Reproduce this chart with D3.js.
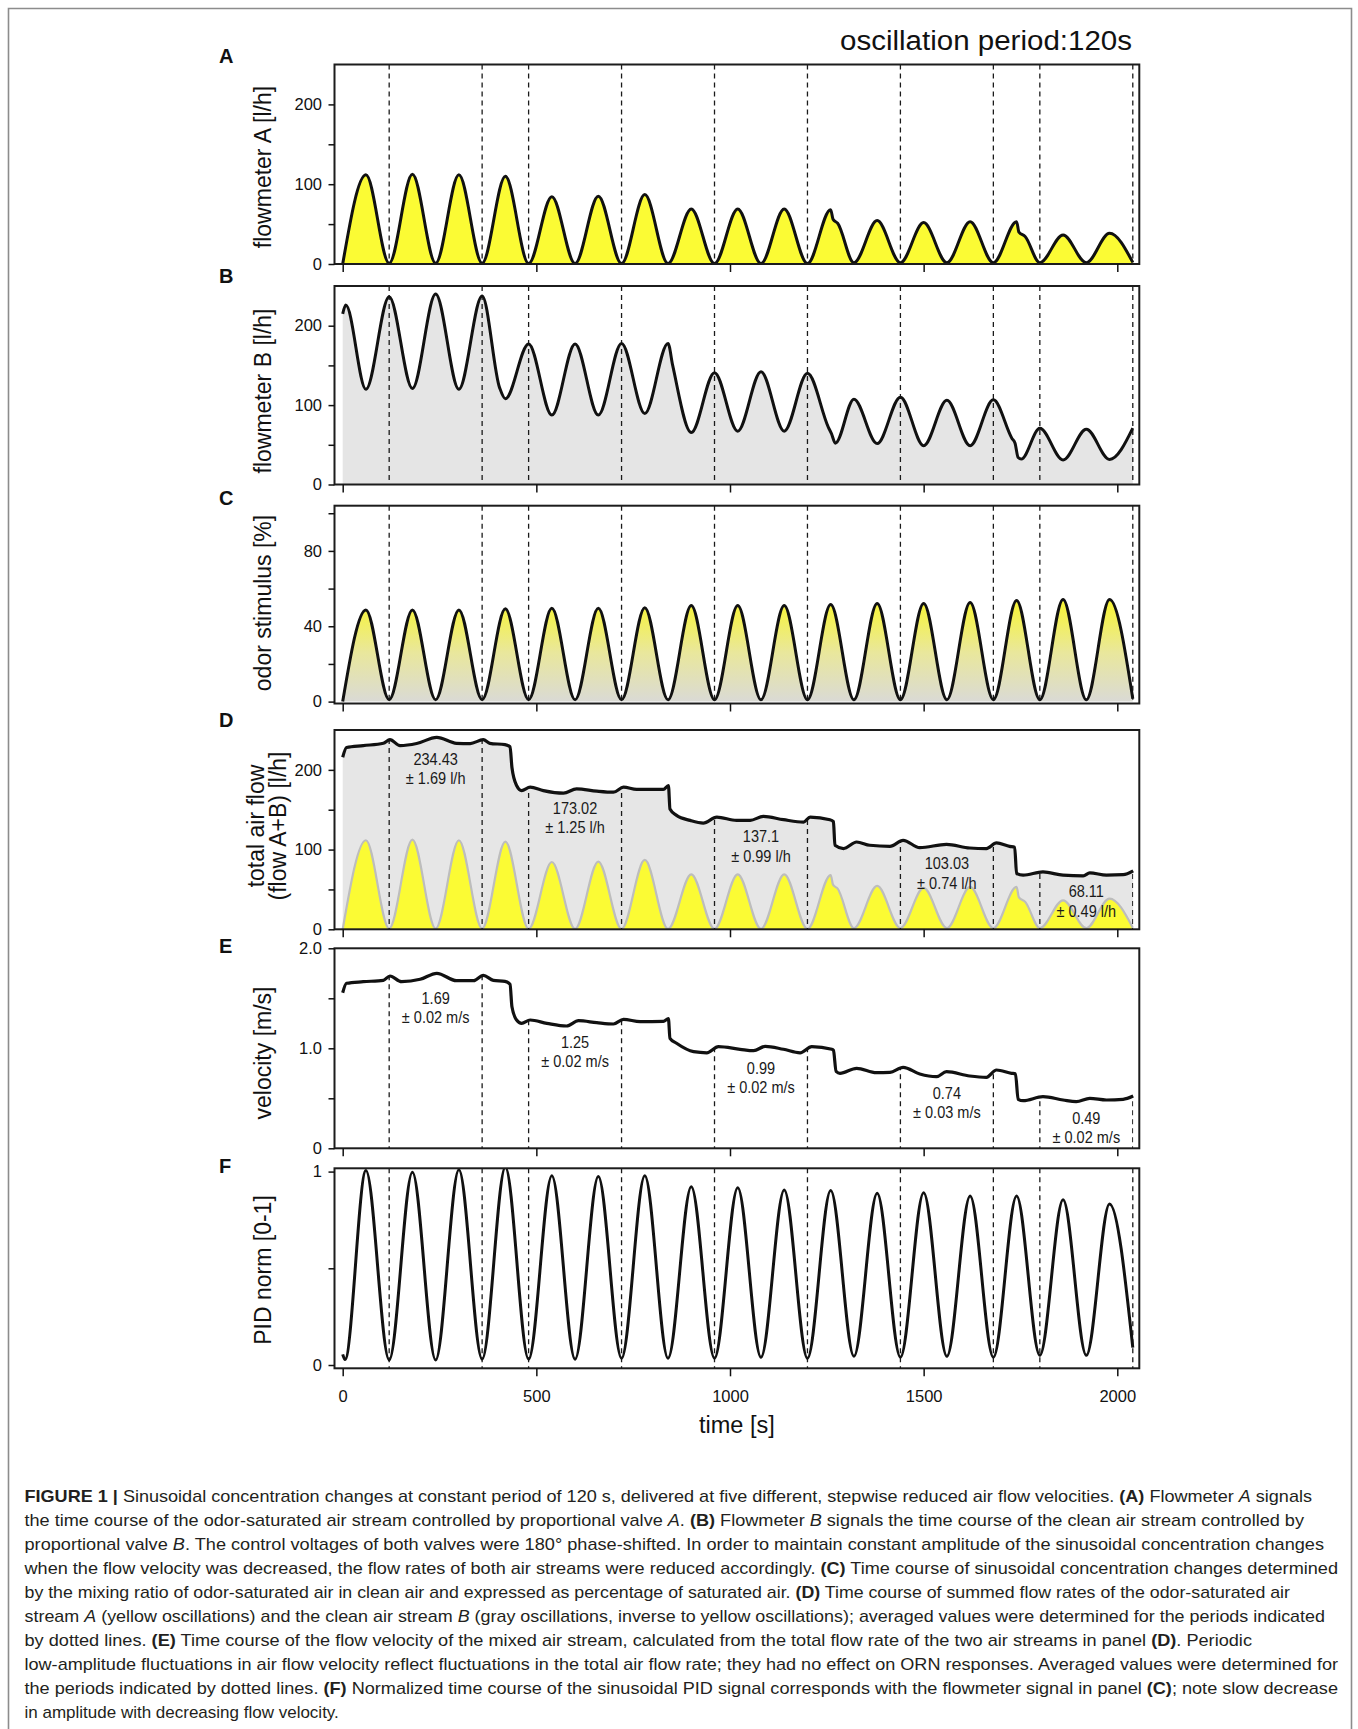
<!DOCTYPE html>
<html>
<head>
<meta charset="utf-8">
<title>Sinusoidal concentration changes at constant period of 120 s</title>
<script src="https://cdn.jsdelivr.net/npm/d3@7"></script>
<style>
  html, body { margin: 0; padding: 0; background: #fff; }
  svg { display: block; }
</style>
</head>
<body>
<svg id="figure" width="1358" height="1729"></svg>
<script>
// ------------------------------------------------------------------
// Data
// ------------------------------------------------------------------
const timeTicks = [0, 500, 1000, 1500, 2000];
const timeTickLabels = ["0", "500", "1000", "1500", "2000"];

// dotted lines bounding the averaging periods (s)
const boundaryTimes = [120, 360, 480, 720, 960, 1200, 1440, 1680, 1800, 2040];
const averagingWindows = [[120, 360], [480, 720], [960, 1200], [1440, 1680], [1800, 2040]];

// averaged values per window
const meanFlow = [234.43, 173.02, 137.1, 103.03, 68.11];
const sdFlow = [1.69, 1.25, 0.99, 0.74, 0.49];
const meanVelocity = [1.69, 1.25, 0.99, 0.74, 0.49];
const sdVelocity = [0.02, 0.02, 0.02, 0.03, 0.02];

const flowTicks = [0, 50, 100, 150, 200];
const flowTickLabels = ["0", "", "100", "", "200"];
const odorTicks = [0, 20, 40, 60, 80, 100];
const odorTickLabels = ["0", "", "40", "", "80", ""];
const velocityTicks = [0, 0.5, 1, 1.5, 2];
const velocityTickLabels = ["0", "", "1.0", "", "2.0"];
const pidTicks = [0, 0.5, 1];
const pidTickLabels = ["0", "", "1"];

// flowmeter A, odor-saturated stream [l/h]  ([time s, value])
const flowA = [
  [0, 0], [60, 111.7], [120, 1], [180, 112.4], [240, 1], [300, 111.7], [360, 1], [420, 110],
  [480, 0.5], [540, 84.4], [600, 0.5], [660, 84.9], [720, 0.5], [780, 87], [840, 0.5],
  [900, 69], [960, 0.5], [1020, 69], [1080, 0.5], [1140, 69], [1200, 0.5], [1260, 68],
  [1266, 56], [1278, 51], [1320, 1.5], [1380, 54.4], [1440, 1.5], [1500, 51.9], [1560, 1.5],
  [1620, 53.1], [1680, 1.5], [1740, 53.1], [1746, 40], [1762, 34.5], [1800, 1.5],
  [1860, 36.4], [1920, 1.5], [1980, 38.5], [2040, 2]
];

// flowmeter B, clean air stream [l/h]
const flowB = [
  [0, 215], [8, 226], [60, 120], [120, 236.6], [180, 121], [240, 240], [300, 120], [360, 237.5],
  [405, 122], [420, 108], [480, 177], [540, 87.4], [600, 177], [660, 87.4], [720, 177.7],
  [780, 89.4], [840, 177.7], [852, 150], [900, 65.5], [960, 140.8], [1020, 67.2], [1080, 142],
  [1140, 67.2], [1200, 140], [1254, 72], [1262, 64], [1272, 52], [1320, 107.4], [1380, 51.5],
  [1440, 110], [1500, 48.9], [1560, 106], [1620, 48.9], [1680, 106.6], [1728, 58], [1736, 52],
  [1744, 34], [1752, 32], [1800, 70.8], [1860, 30.9], [1920, 69.6], [1980, 31.5], [2040, 71]
];

// odor stimulus [% of saturated air]
const odorStimulus = [
  [0, 0], [60, 48.7], [120, 1], [180, 48.7], [240, 1], [300, 48.7], [360, 1], [420, 49.3],
  [480, 1], [540, 49.6], [600, 1], [660, 49.6], [720, 1], [780, 49.8], [840, 1], [900, 51],
  [960, 1], [1020, 51], [1080, 1], [1140, 51], [1200, 1], [1260, 51.5], [1320, 1], [1380, 52.1],
  [1440, 1], [1500, 52.1], [1560, 1], [1620, 52.6], [1680, 1], [1740, 53.7], [1800, 1],
  [1860, 54.2], [1920, 1], [1980, 54.2], [2040, 1.5]
];

// total air flow A+B [l/h]
const totalFlow = [
  [0, 215.8], [10, 228], [53, 230.4], [105, 233.3], [122, 237.9], [148, 230.4], [191, 233],
  [243, 240.8], [294, 233.3], [329, 233], [363, 237.9], [380, 233.3], [419, 231.6], [432, 229],
  [437, 203], [449, 180.4], [462, 174], [484, 178.3], [518, 174], [570, 170.8], [604, 176.2],
  [656, 173.3], [699, 172], [725, 178.3], [759, 175.4], [828, 175.4], [841, 180.4], [845, 151],
  [862, 142.9], [897, 136.6], [931, 133.3], [966, 140.8], [1017, 136.6], [1052, 136.6],
  [1086, 141.6], [1138, 137.5], [1190, 134.5], [1207, 140.8], [1258, 137.5], [1267, 135],
  [1271, 105.4], [1293, 101.3], [1327, 109.5], [1361, 105.4], [1413, 104.1], [1447, 111.6],
  [1490, 102.4], [1559, 106.6], [1619, 102], [1662, 101.3], [1688, 108.3], [1722, 104],
  [1735, 103], [1740, 70], [1757, 67.9], [1808, 72], [1860, 67.9], [1912, 67], [1929, 70.8],
  [1972, 67.9], [2015, 68.5], [2041, 73.3]
];

// flow velocity of the mixed stream [m/s]
const velocity = [
  [0, 1.556], [10, 1.65], [53, 1.666], [105, 1.68], [122, 1.723], [152, 1.666], [200, 1.69],
  [243, 1.75], [294, 1.676], [338, 1.676], [363, 1.73], [389, 1.68], [419, 1.67], [432, 1.64],
  [437, 1.416], [449, 1.283], [462, 1.25], [484, 1.283], [527, 1.25], [578, 1.223], [609, 1.276],
  [656, 1.256], [699, 1.243], [725, 1.29], [768, 1.266], [828, 1.27], [841, 1.296], [845, 1.1],
  [862, 1.05], [906, 0.966], [940, 0.955], [970, 1.016], [1026, 0.99], [1061, 0.976],
  [1091, 1.02], [1138, 0.99], [1181, 0.955], [1211, 1.016], [1263, 0.99], [1267, 0.98],
  [1274, 0.77], [1284, 0.75], [1327, 0.8], [1378, 0.756], [1413, 0.76], [1447, 0.81],
  [1490, 0.743], [1533, 0.716], [1559, 0.766], [1619, 0.723], [1662, 0.71], [1688, 0.783],
  [1727, 0.75], [1737, 0.745], [1744, 0.49], [1757, 0.476], [1808, 0.516], [1860, 0.483],
  [1894, 0.466], [1929, 0.5], [1972, 0.483], [2015, 0.49], [2041, 0.523]
];

// normalised PID signal
const pidSignal = [
  [0, 0.055], [6, 0.028], [60, 1.005], [120, 0.026], [180, 0.997], [240, 0.026], [300, 1.009],
  [360, 0.03], [420, 1.023], [480, 0.03], [540, 0.979], [600, 0.03], [660, 0.974], [720, 0.035],
  [780, 0.978], [840, 0.035], [900, 0.922], [960, 0.035], [1020, 0.917], [1080, 0.04],
  [1140, 0.905], [1200, 0.035], [1260, 0.902], [1320, 0.045], [1380, 0.888], [1440, 0.04],
  [1500, 0.891], [1560, 0.045], [1620, 0.874], [1680, 0.04], [1740, 0.874], [1800, 0.05],
  [1860, 0.854], [1920, 0.05], [1980, 0.833], [2040, 0.09]
];

const captionLines = [
  "**FIGURE 1 |** Sinusoidal concentration changes at constant period of 120 s, delivered at five different, stepwise reduced air flow velocities. **(A)** Flowmeter _A_ signals",
  "the time course of the odor-saturated air stream controlled by proportional valve _A_. **(B)** Flowmeter _B_ signals the time course of the clean air stream controlled by",
  "proportional valve _B_. The control voltages of both valves were 180° phase-shifted. In order to maintain constant amplitude of the sinusoidal concentration changes",
  "when the flow velocity was decreased, the flow rates of both air streams were reduced accordingly. **(C)** Time course of sinusoidal concentration changes determined",
  "by the mixing ratio of odor-saturated air in clean air and expressed as percentage of saturated air. **(D)** Time course of summed flow rates of the odor-saturated air",
  "stream _A_ (yellow oscillations) and the clean air stream _B_ (gray oscillations, inverse to yellow oscillations); averaged values were determined for the periods indicated",
  "by dotted lines. **(E)** Time course of the flow velocity of the mixed air stream, calculated from the total flow rate of the two air streams in panel **(D)**. Periodic",
  "low-amplitude fluctuations in air flow velocity reflect fluctuations in the total air flow rate; they had no effect on ORN responses. Averaged values were determined for",
  "the periods indicated by dotted lines. **(F)** Normalized time course of the sinusoidal PID signal corresponds with the flowmeter signal in panel **(C)**; note slow decrease",
  "in amplitude with decreasing flow velocity."
];

// ------------------------------------------------------------------
// Layout and style
// ------------------------------------------------------------------
const FONT = '"Liberation Sans", Arial, Helvetica, sans-serif';
const INK = "#111";
const YELLOW = "#fbfb34";
const plotLeft = 334.5, plotRight = 1139.3;
const x = d3.scaleLinear().domain([0, 2000]).range([342.7, 1117.3]);

const svg = d3.select("#figure").attr("font-family", FONT);
const defs = svg.append("defs");

// open outer frame around figure and legend
svg.append("path")
  .attr("d", d3.line()([[8.5, 1729], [8.5, 8.5], [1351.5, 8.5], [1351.5, 1729]]))
  .attr("fill", "none").attr("stroke", "#8c8c8c").attr("stroke-width", 1.6);

svg.append("text")
  .attr("x", 840).attr("y", 50)
  .attr("font-size", 27).attr("fill", INK)
  .attr("textLength", 292).attr("lengthAdjust", "spacingAndGlyphs")
  .text("oscillation period:120s");

const lineOf = y => d3.line().x(d => x(d[0])).y(d => y(d[1])).curve(d3.curveMonotoneX);
const areaOf = y => d3.area().x(d => x(d[0])).y0(y(0)).y1(d => y(d[1])).curve(d3.curveMonotoneX);

function dashedBoundaries(g, spec, clip) {
  const grp = g.append("g");
  if (clip) grp.attr("clip-path", `url(#${clip})`);
  grp.selectAll("line").data(boundaryTimes).join("line")
    .attr("x1", d => x(d)).attr("x2", d => x(d))
    .attr("y1", spec.top).attr("y2", spec.bottom)
    .attr("stroke", "#1a1a1a").attr("stroke-width", 1.3)
    .attr("stroke-dasharray", "5,4");
}

function condense(sel, factor) {
  sel.each(function () {
    const len = this.getComputedTextLength();
    d3.select(this).attr("textLength", len * factor).attr("lengthAdjust", "spacingAndGlyphs");
  });
}

function windowLabels(g, y, means, firstLines, secondLines, offset, leading) {
  const grp = g.append("g").attr("font-size", 16.5).attr("fill", "#1a1a1a").attr("text-anchor", "middle");
  averagingWindows.forEach((w, i) => {
    const cx = x((w[0] + w[1]) / 2);
    const cy = y(means[i]) + offset;
    grp.append("text").attr("x", cx).attr("y", cy).attr("dy", "0.35em").text(firstLines[i]);
    grp.append("text").attr("x", cx).attr("y", cy + leading).attr("dy", "0.35em").text(secondLines[i]);
  });
  condense(grp.selectAll("text"), 0.88);
}

function drawPanel(spec, drawContent) {
  const y = d3.scaleLinear().domain(spec.domain).range([spec.bottom, spec.top]);
  const g = svg.append("g").attr("class", "panel panel-" + spec.id);

  const clipId = "plot-clip-" + spec.id;
  defs.append("clipPath").attr("id", clipId).append("rect")
    .attr("x", plotLeft).attr("y", spec.top)
    .attr("width", plotRight - plotLeft).attr("height", spec.bottom - spec.top);
  const content = g.append("g").attr("clip-path", `url(#${clipId})`);
  drawContent(content, y, spec);

  // frame
  g.append("rect")
    .attr("x", plotLeft).attr("y", spec.top)
    .attr("width", plotRight - plotLeft).attr("height", spec.bottom - spec.top)
    .attr("fill", "none").attr("stroke", "#1c1c1c").attr("stroke-width", 2);

  // y axis
  const ya = g.append("g").attr("transform", `translate(${plotLeft},0)`)
    .call(d3.axisLeft(y).tickValues(spec.ticks).tickFormat((d, i) => spec.tickLabels[i])
      .tickSize(6).tickSizeOuter(0).tickPadding(6.5));
  ya.select(".domain").remove();
  ya.attr("font-family", null).attr("font-size", null);
  ya.selectAll("line").attr("stroke", INK).attr("stroke-width", 1.5);
  ya.selectAll("text").attr("font-size", 16.5).attr("fill", INK);

  // time axis ticks (labelled on the last panel only)
  const xa = g.append("g").attr("transform", `translate(0,${spec.bottom})`)
    .call(d3.axisBottom(x).tickValues(timeTicks)
      .tickFormat((d, i) => spec.timeLabels ? timeTickLabels[i] : "")
      .tickSize(8).tickSizeOuter(0).tickPadding(13.5));
  xa.select(".domain").remove();
  xa.attr("font-family", null).attr("font-size", null);
  xa.selectAll("line").attr("stroke", INK).attr("stroke-width", 1.5);
  xa.selectAll("text").attr("font-size", 16.5).attr("fill", INK);

  // panel letter
  g.append("text").attr("x", 219).attr("y", spec.letterY)
    .attr("font-size", 20).attr("font-weight", "bold").attr("fill", INK)
    .text(spec.id);

  // axis title
  const baseX = spec.titleLines.length === 1 ? [271] : [264, 286];
  spec.titleLines.forEach((t, i) => {
    g.append("text")
      .attr("transform", `translate(${baseX[i]},${spec.titleY}) rotate(-90)`)
      .attr("text-anchor", "middle").attr("font-size", 23).attr("fill", INK)
      .text(t);
  });
  return y;
}

// ---- A: flowmeter A ----
drawPanel({id: "A", top: 64.5, bottom: 264, domain: [0, 250], ticks: flowTicks, tickLabels: flowTickLabels,
  letterY: 63, titleLines: ["flowmeter A [l/h]"], titleY: 167}, (g, y, spec) => {
  g.append("path").attr("d", areaOf(y)(flowA)).attr("fill", YELLOW);
  dashedBoundaries(g, spec);
  g.append("path").attr("d", lineOf(y)(flowA)).attr("fill", "none")
    .attr("stroke", INK).attr("stroke-width", 3).attr("stroke-linejoin", "round");
});

// ---- B: flowmeter B ----
drawPanel({id: "B", top: 286, bottom: 484.5, domain: [0, 250], ticks: flowTicks, tickLabels: flowTickLabels,
  letterY: 283, titleLines: ["flowmeter B [l/h]"], titleY: 391}, (g, y, spec) => {
  g.append("path").attr("d", areaOf(y)(flowB)).attr("fill", "#e5e5e5");
  dashedBoundaries(g, spec);
  g.append("path").attr("d", lineOf(y)(flowB)).attr("fill", "none")
    .attr("stroke", INK).attr("stroke-width", 3).attr("stroke-linejoin", "round");
});

// ---- C: odor stimulus ----
drawPanel({id: "C", top: 505.7, bottom: 703.5, domain: [-1, 104], ticks: odorTicks, tickLabels: odorTickLabels,
  letterY: 505, titleLines: ["odor stimulus [%]"], titleY: 603}, (g, y, spec) => {
  const grad = defs.append("linearGradient").attr("id", "odor-fill")
    .attr("gradientUnits", "userSpaceOnUse")
    .attr("x1", 0).attr("x2", 0).attr("y1", y(52)).attr("y2", y(0));
  grad.append("stop").attr("offset", 0).attr("stop-color", "#f7f43a");
  grad.append("stop").attr("offset", 0.5).attr("stop-color", "#e9e79c");
  grad.append("stop").attr("offset", 1).attr("stop-color", "#dadad5");
  g.append("path").attr("d", areaOf(y)(odorStimulus)).attr("fill", "url(#odor-fill)");
  dashedBoundaries(g, spec);
  g.append("path").attr("d", lineOf(y)(odorStimulus)).attr("fill", "none")
    .attr("stroke", INK).attr("stroke-width", 3).attr("stroke-linejoin", "round");
});

// ---- D: total air flow ----
drawPanel({id: "D", top: 730, bottom: 929.3, domain: [0, 250], ticks: flowTicks, tickLabels: flowTickLabels,
  letterY: 727, titleLines: ["total air flow", "(flow A+B) [l/h]"], titleY: 826}, (g, y, spec) => {
  const under = areaOf(y)(totalFlow);
  defs.append("clipPath").attr("id", "under-total").append("path").attr("d", under);
  g.append("path").attr("d", under).attr("fill", "#e6e6e6");
  g.append("path").attr("d", areaOf(y)(flowA)).attr("fill", YELLOW);
  g.append("path").attr("d", lineOf(y)(flowA)).attr("fill", "none")
    .attr("stroke", "#bdbdbd").attr("stroke-width", 2.2);
  dashedBoundaries(g, spec, "under-total");
  g.append("path").attr("d", lineOf(y)(totalFlow)).attr("fill", "none")
    .attr("stroke", INK).attr("stroke-width", 3.2).attr("stroke-linejoin", "round");
  windowLabels(g, y, meanFlow,
    meanFlow.map(String),
    sdFlow.map(v => "± " + v.toFixed(2) + " l/h"), 16.5, 19.5);
});

// ---- E: velocity ----
drawPanel({id: "E", top: 948.3, bottom: 1148.3, domain: [0, 2], ticks: velocityTicks, tickLabels: velocityTickLabels,
  letterY: 953, titleLines: ["velocity [m/s]"], titleY: 1053}, (g, y, spec) => {
  defs.append("clipPath").attr("id", "under-velocity").append("path").attr("d", areaOf(y)(velocity));
  dashedBoundaries(g, spec, "under-velocity");
  g.append("path").attr("d", lineOf(y)(velocity)).attr("fill", "none")
    .attr("stroke", INK).attr("stroke-width", 3.2).attr("stroke-linejoin", "round");
  windowLabels(g, y, meanVelocity,
    meanVelocity.map(v => v.toFixed(2)),
    sdVelocity.map(v => "± " + v.toFixed(2) + " m/s"), 19, 18.5);
});

// ---- F: PID ----
drawPanel({id: "F", top: 1168.3, bottom: 1368.3, domain: [-0.017, 1.017], ticks: pidTicks, tickLabels: pidTickLabels,
  letterY: 1173, titleLines: ["PID norm [0-1]"], titleY: 1270, timeLabels: true}, (g, y, spec) => {
  dashedBoundaries(g, spec);
  g.append("path").attr("d", lineOf(y)(pidSignal)).attr("fill", "none")
    .attr("stroke", INK).attr("stroke-width", 3).attr("stroke-linejoin", "round");
});

svg.append("text")
  .attr("x", (plotLeft + plotRight) / 2).attr("y", 1433)
  .attr("text-anchor", "middle").attr("font-size", 23.5).attr("fill", INK)
  .text("time [s]");

// ------------------------------------------------------------------
// Legend text
// ------------------------------------------------------------------
const captionLeft = 24.5, captionFirstBaseline = 1501.5, captionLeading = 24.06;
const captionLineWidths = [1287.5, 1279.5, 1299.5, 1313.5, 1265.5, 1300.5, 1227.5, 1313.5, 1313.5, null];

const caption = svg.append("g").attr("font-size", 17).attr("fill", "#231f20");
captionLines.forEach((line, i) => {
  const t = caption.append("text")
    .attr("x", captionLeft).attr("y", captionFirstBaseline + i * captionLeading)
    .style("white-space", "pre");
  line.split(/(\*\*[^*]+\*\*|_[^_]+_)/).filter(s => s.length).forEach(s => {
    const span = t.append("tspan");
    if (s.startsWith("**")) span.attr("font-weight", "bold").text(s.slice(2, -2));
    else if (s.length > 2 && s.startsWith("_") && s.endsWith("_")) span.attr("font-style", "italic").text(s.slice(1, -1));
    else span.text(s);
  });
  if (captionLineWidths[i]) {
    t.attr("textLength", captionLineWidths[i]).attr("lengthAdjust", "spacingAndGlyphs");
  }
});
</script>
</body>
</html>
